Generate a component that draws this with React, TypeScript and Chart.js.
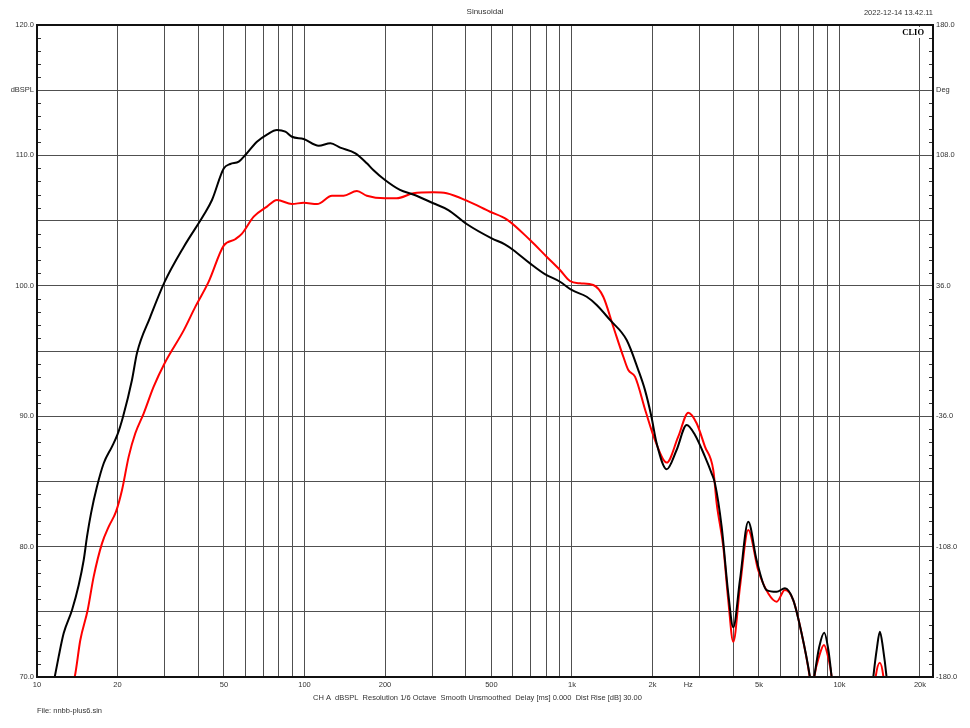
import React, { useEffect, useRef } from 'react';
import { Chart, registerables } from 'chart.js';

Chart.register(...registerables);

// ---- Data ----
const blackFreq = [11.4, 12.05, 12.58, 13.52, 14.32, 14.95, 15.38, 15.92, 16.76, 17.76, 19.07, 20, 20.97, 22.65, 23.65, 26.5, 30, 35.4, 42, 45.1, 49.9, 52.8, 56.8, 60.1, 66.4, 72.4, 78.9, 84.8, 89.8, 99.3, 113, 125, 136, 155, 171, 180.8, 200, 227.5, 255, 303, 345, 404, 501, 561, 603, 697, 792, 902, 997, 1135, 1237, 1387, 1601, 1770, 1875, 1980, 2073, 2260, 2461, 2684, 2884, 3141, 3327, 3424, 3627, 3839, 4009, 4246, 4560, 4900, 5341, 5823, 6252, 6717, 7218, 7756, 7900, 8050, 8400, 8770, 9100, 9350, 9700, 11000, 12500, 13380, 13800, 14160, 14550, 15000, 15600, 18000, 22000];
const blackDb = [69, 71.56, 73.35, 75.14, 77.06, 78.97, 80.76, 82.55, 84.6, 86.39, 87.67, 88.6, 89.96, 92.78, 94.85, 97.6, 100.3, 103, 105.43, 106.58, 109, 109.34, 109.52, 110.03, 111.05, 111.6, 111.95, 111.82, 111.43, 111.26, 110.74, 110.93, 110.6, 110.16, 109.4, 108.88, 108.11, 107.35, 107, 106.33, 105.81, 104.74, 103.64, 103.18, 102.75, 101.72, 100.9, 100.31, 99.68, 99.16, 98.53, 97.38, 95.84, 93.54, 92, 90, 87.92, 85.93, 87.41, 89.33, 88.56, 86.9, 85.62, 84.85, 81.53, 76.42, 73.81, 77.44, 81.91, 78.97, 76.67, 76.54, 76.8, 75.9, 73.35, 70, 68.8, 70, 72.3, 73.4, 72, 70, 67, 62, 64, 70, 72.2, 73.47, 72.2, 70, 66, 60, 55];

const redFreq = [13.5, 13.83, 14.52, 15.47, 16.29, 17.5, 18.54, 19.74, 20.79, 22.02, 23.31, 25.06, 27.3, 30, 35.4, 39.1, 43.8, 49.9, 55.1, 58.4, 64.6, 72.4, 78.9, 89.8, 99.3, 111.4, 126.7, 140, 157, 171, 200, 221, 255, 303, 340, 404, 494, 570, 697, 804, 902, 983, 1071, 1201, 1309, 1427, 1556, 1624, 1720, 1890, 2043, 2260, 2496, 2723, 2924, 3141, 3375, 3475, 3678, 3839, 4009, 4246, 4560, 4966, 5419, 5823, 6252, 6717, 7218, 7740, 7900, 8050, 8400, 8750, 9100, 9350, 9700, 11000, 12500, 13650, 14150, 14600, 15500, 18000, 22000];
const redDb = [69.5, 70, 72.84, 75.14, 77.7, 80.25, 81.53, 82.68, 84.34, 86.9, 88.69, 90.22, 92.26, 94.06, 96.6, 98.4, 100.3, 103.08, 103.57, 104, 105.3, 106.07, 106.58, 106.27, 106.37, 106.27, 106.9, 106.91, 107.27, 106.91, 106.71, 106.71, 107.09, 107.17, 107.09, 106.53, 105.68, 105.1, 103.51, 102.23, 101.21, 100.37, 100.19, 100.06, 99.16, 96.86, 94.56, 93.54, 93.03, 90.3, 88.17, 86.44, 88.43, 90.27, 89.46, 87.67, 85.87, 83.32, 80, 75.9, 72.7, 76.9, 81.27, 78.2, 76.4, 75.78, 76.67, 75.9, 73.35, 70, 68.5, 70, 71.6, 72.46, 71.4, 70, 66, 60, 62, 70, 71.1, 70, 64, 58, 52];

// ---- Axes / tick labels ----
const xMin = 10;
const xMax = 22370;
const xGridFreqs = [10, 20, 30, 40, 50, 60, 70, 80, 90, 100, 200, 300, 400, 500, 600, 700, 800, 900, 1000, 2000, 3000, 4000, 5000, 6000, 7000, 8000, 9000, 10000, 20000];
const xTickLabels: Record<number, string> = { 10: '10', 20: '20', 50: '50', 100: '100', 200: '200', 500: '500', 1000: '1k', 2000: '2k', 5000: '5k', 10000: '10k', 20000: '20k' };
const hzLabelFreq = 2720;

const yMin = 70;
const yMax = 120;
const yStep = 5;
const yLeftLabels: Record<number, string> = { 120: '120.0', 115: 'dBSPL', 110: '110.0', 100: '100.0', 90: '90.0', 80: '80.0', 70: '70.0' };

const y2Min = -180;
const y2Max = 180;
const y2Step = 36;
const yRightLabels: Record<string, string> = { '180': '180.0', '144': 'Deg', '108': '108.0', '36': '36.0', '-36': '-36.0', '-108': '-108.0', '-180': '-180.0' };

const titleText = 'Sinusoidal';
const dateText = '2022-12-14 13.42.11';
const brandText = 'CLIO';
const infoText = 'CH A  dBSPL  Resolution 1/6 Octave  Smooth Unsmoothed  Delay [ms] 0.000  Dist Rise [dB] 30.00';
const fileText = 'File: nnbb-plus6.sin';

const FONT = '"Liberation Sans", Arial, sans-serif';
const TEXT_COLOR = '#333333';
const GRID_COLOR = '#505050';
const LABEL_SIZE = 7.5;

const decorPlugin = {
  id: 'decor',
  afterDraw(chart: any) {
    const { ctx, chartArea } = chart;
    const { left, right, top, bottom } = chartArea;
    const ys = chart.scales.y;
    const xs = chart.scales.x;
    ctx.save();

    // minor ticks every 1 dB
    ctx.strokeStyle = '#333';
    ctx.lineWidth = 1;
    ctx.beginPath();
    for (let v = yMin; v <= yMax; v++) {
      if (v % yStep === 0) continue;
      const py = Math.round(ys.getPixelForValue(v)) + 0.5;
      ctx.moveTo(left, py);
      ctx.lineTo(left + 4, py);
      ctx.moveTo(right - 4, py);
      ctx.lineTo(right, py);
    }
    ctx.stroke();

    // frame
    ctx.strokeStyle = '#111';
    ctx.lineWidth = 2;
    ctx.strokeRect(left, top, right - left, bottom - top);

    // texts
    ctx.fillStyle = TEXT_COLOR;
    ctx.textBaseline = 'middle';
    ctx.font = `8px ${FONT}`;
    ctx.textAlign = 'center';
    ctx.fillText(titleText, chart.width / 2, 12);
    ctx.font = `${LABEL_SIZE}px ${FONT}`;
    ctx.textAlign = 'right';
    ctx.fillText(dateText, right, 13);
    ctx.textAlign = 'center';
    ctx.fillText('Hz', xs.getPixelForValue(hzLabelFreq), bottom + 8);
    ctx.textAlign = 'left';
    ctx.fillText(infoText, 313, bottom + 21);
    ctx.fillText(fileText, left, bottom + 34);

    // brand
    ctx.font = `bold 8.5px "Liberation Serif", "Times New Roman", serif`;
    const w = ctx.measureText(brandText).width;
    ctx.fillStyle = '#ffffff';
    ctx.fillRect(right - 9 - w - 2, top + 2, w + 4, 11);
    ctx.fillStyle = '#000';
    ctx.textAlign = 'right';
    ctx.fillText(brandText, right - 9, top + 8);
    ctx.restore();
  },
};

export default function App() {
  const canvasRef = useRef<HTMLCanvasElement | null>(null);

  useEffect(() => {
    const canvas = canvasRef.current;
    if (!canvas) return;
    const chart = new Chart(canvas, {
      type: 'line',
      data: {
        datasets: [
          {
            label: 'Black',
            data: blackFreq.map((f, i) => ({ x: f, y: blackDb[i] })),
            borderColor: '#000000',
            borderWidth: 2,
            pointRadius: 0,
            cubicInterpolationMode: 'monotone',
            yAxisID: 'y',
          },
          {
            label: 'Red',
            data: redFreq.map((f, i) => ({ x: f, y: redDb[i] })),
            borderColor: '#ff0000',
            borderWidth: 2,
            pointRadius: 0,
            cubicInterpolationMode: 'monotone',
            yAxisID: 'y',
          },
        ],
      },
      options: {
        responsive: false,
        animation: false,
        devicePixelRatio: 1,
        events: [],
        layout: { padding: { top: 25, left: 0, right: 0, bottom: 0 } },
        plugins: { legend: { display: false }, tooltip: { enabled: false }, title: { display: false } },
        scales: {
          x: {
            type: 'logarithmic',
            position: 'bottom',
            min: xMin,
            max: xMax,
            afterBuildTicks: (s: any) => {
              s.ticks = xGridFreqs.map((v) => ({ value: v }));
            },
            afterFit: (s: any) => {
              s.height = 51;
            },
            ticks: {
              autoSkip: false,
              maxRotation: 0,
              minRotation: 0,
              padding: 3,
              color: TEXT_COLOR,
              font: { family: FONT, size: LABEL_SIZE },
              callback: (v: any) => xTickLabels[Number(v)] ?? '',
            },
            grid: { color: GRID_COLOR, lineWidth: 1, drawTicks: false },
            border: { display: false },
          },
          y: {
            type: 'linear',
            position: 'left',
            min: yMin,
            max: yMax,
            afterFit: (s: any) => {
              s.width = 37;
            },
            ticks: {
              stepSize: yStep,
              padding: 3,
              color: TEXT_COLOR,
              font: { family: FONT, size: LABEL_SIZE },
              callback: (v: any) => yLeftLabels[Number(v)] ?? '',
            },
            grid: { color: GRID_COLOR, lineWidth: 1, drawTicks: false },
            border: { display: false },
          },
          y2: {
            type: 'linear',
            position: 'right',
            min: y2Min,
            max: y2Max,
            afterFit: (s: any) => {
              s.width = 37;
            },
            ticks: {
              stepSize: y2Step,
              padding: 3,
              color: TEXT_COLOR,
              font: { family: FONT, size: LABEL_SIZE },
              callback: (v: any) => yRightLabels[String(Math.round(Number(v)))] ?? '',
            },
            grid: { drawOnChartArea: false, drawTicks: false },
            border: { display: false },
          },
        },
      },
      plugins: [decorPlugin],
    });
    return () => chart.destroy();
  }, []);

  return (
    <div style={{ position: 'absolute', left: 0, top: 0, width: 970, height: 728, background: '#fff' }}>
      <canvas ref={canvasRef} width={970} height={728} style={{ width: 970, height: 728, display: 'block' }} />
    </div>
  );
}
